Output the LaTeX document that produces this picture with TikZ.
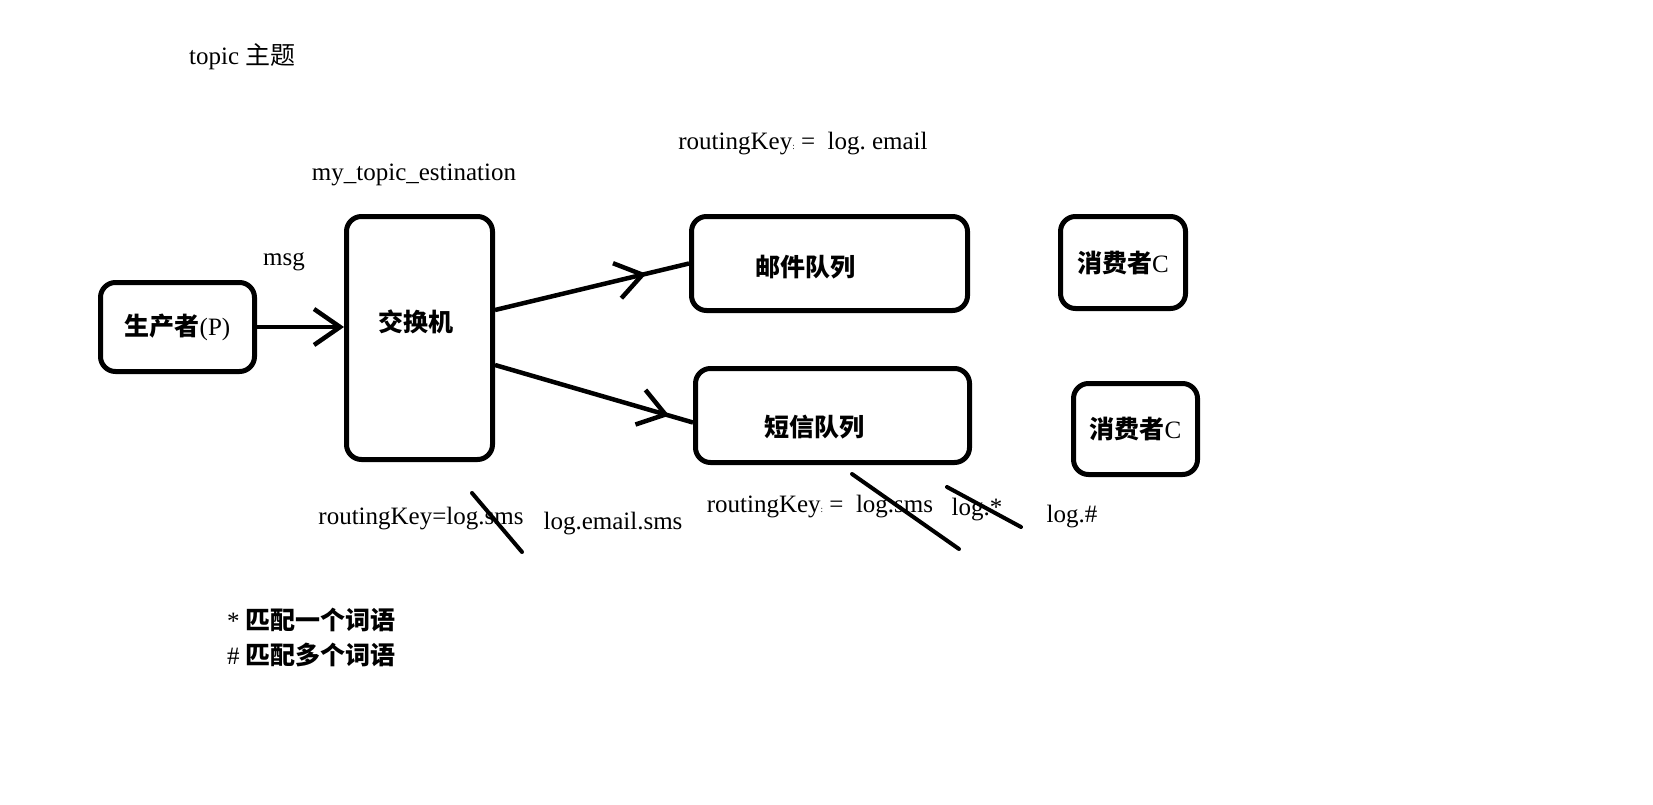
\documentclass[tikz,border=0pt]{standalone}
\usepackage{fontspec}
\setmainfont{Liberation Serif}
\newfontfamily\cjk{Noto Sans CJK SC}
\usetikzlibrary{arrows.meta,decorations.markings}
\tikzset{
  qbox/.style={draw,line width=5pt,rounded corners=15pt},
  lbl/.style={yshift=-4pt},
  barb/.style={line width=4.5pt,-{Straight Barb[length=26pt,width=36pt]}},
  midbarb/.style={line width=4.5pt,postaction={decorate},
    decoration={markings,mark=at position #1 with {\arrow{Straight Barb[length=26pt,width=36pt]}}}},
  strikeout/.style={line width=4pt,line cap=round}
}
\begin{document}
\begin{tikzpicture}[x=1pt,y=-1pt,every node/.style={font=\fontsize{25}{30}\selectfont,inner sep=0pt}]
\fill[white] (0,0) rectangle (1653,805);
\useasboundingbox (0,0) rectangle (1653,805);
\node[lbl,anchor=west] (title) at (189,53) {topic {\cjk 主题}};
\node[lbl] (exname) at (414,171) {my\_topic\_estination};
\node[lbl] (msg) at (284,258) {msg};
\node[qbox,minimum width=154pt,minimum height=89pt] (prod) at (177.5,327) {{\cjk\bfseries 生产者}(P)};
\node[qbox,minimum width=146pt,minimum height=243pt] (xchg) at (419.5,338) {};
\node (xchg-txt) at (416,322) {\cjk\bfseries 交换机};
\node[qbox,minimum width=276pt,minimum height=94pt] (mailq) at (829.5,263.5) {};
\node (mailq-txt) at (805,267) {\cjk\bfseries 邮件队列};
\node[qbox,minimum width=274pt,minimum height=94pt] (smsq) at (832.5,415.5) {};
\node (smsq-txt) at (814,427) {\cjk\bfseries 短信队列};
\node[qbox,minimum width=125pt,minimum height=92pt] (cons1) at (1123,262.5) {{\cjk\bfseries 消费者}C};
\node[qbox,minimum width=124pt,minimum height=91pt] (cons2) at (1135.5,429) {{\cjk\bfseries 消费者}C};
\node[lbl] (key-mail) at (803,140) {routingKey{\small:}\ =\ \ log.\ email};
\node[lbl] (key-sms) at (421,515) {routingKey=log.sms};
\node[lbl] (alt-sms) at (613,520) {log.email.sms};
\node[lbl] (key-sms2) at (820,503) {routingKey{\small:}\ =\ \ log.sms};
\node[lbl] (star) at (977,506) {log.*};
\node[lbl] (hash) at (1072,513) {log.\#};
\node[anchor=west] (rule1) at (227,620) {* {\cjk\bfseries 匹配一个词语}};
\node[anchor=west] (rule2) at (227,655) {\# {\cjk\bfseries 匹配多个词语}};
\draw[barb] (prod.east) -- (prod.east -| xchg.west);
\draw[midbarb=0.78] ([yshift=28pt]xchg.east) -- (mailq.west);
\draw[midbarb=0.88] ([yshift=-27pt]xchg.east) -- ([yshift=-7pt]smsq.west);
\draw[strikeout] (472,493) -- (522,552);
\draw[strikeout] (852,474) -- (959,549);
\draw[strikeout] (947,487) -- (1021,527);
\end{tikzpicture}
\end{document}
